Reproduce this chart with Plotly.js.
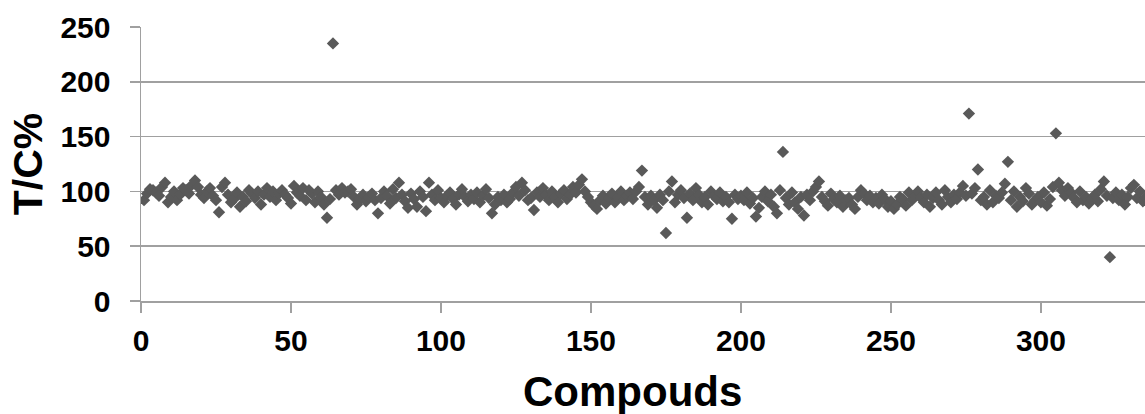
<!DOCTYPE html>
<html>
<head>
<meta charset="utf-8">
<script src="https://cdn.plot.ly/plotly-3.0.1.min.js"></script>
<style>html,body{margin:0;padding:0;background:#fff}#chart{width:1145px;height:414px}</style>
</head>
<body>
<div id="chart"></div>
<script>
// T/C% values for compounds 1..335
const tcValues = [
  92, 98, 102, 101, 99, 96, 104, 108, 90, 95, 100, 92, 97, 103, 101, 98, 106, 110, 104, 97,
  94, 100, 103, 96, 92, 81, 104, 108, 97, 90, 93, 99, 86, 95, 91, 101, 98, 94, 100, 88,
  97, 103, 95, 100, 92, 98, 101, 97, 94, 89, 105, 99, 96, 103, 92, 101, 98, 90, 100, 95,
  88, 76, 93, 235, 101, 97, 103, 99, 100, 102, 95, 88, 93, 97, 91, 95, 98, 92, 80, 94,
  100, 96, 89, 102, 94, 108, 97, 91, 85, 98, 93, 86, 100, 95, 82, 108, 97, 92, 101, 94,
  90, 96, 99, 93, 88, 97, 102, 95, 91, 97, 93, 99, 90, 96, 102, 94, 80, 88, 95, 92,
  97, 90, 93, 99, 104, 96, 108, 101, 92, 94, 83, 99, 95, 103, 97, 92, 100, 95, 90, 98,
  101, 93, 97, 104, 99, 106, 111, 100, 95, 90, 87, 84, 92, 96, 89, 94, 98, 90, 95, 100,
  92, 96, 99, 93, 100, 104, 119, 95, 88, 96, 92, 85, 97, 92, 62, 100, 109, 90, 97, 101,
  94, 76, 98, 92, 103, 97, 90, 95, 88, 100, 96, 93, 99, 91, 95, 90, 75, 97, 93, 96,
  92, 99, 89, 94, 77, 85, 95, 100, 91, 97, 86, 80, 101, 136, 94, 88, 99, 90, 84, 95,
  78, 97, 92, 100, 104, 109, 95, 91, 87, 98, 93, 90, 96, 86, 92, 94, 88, 84, 95, 101,
  98, 92, 96, 90, 94, 89, 97, 93, 86, 91, 84, 88, 95, 93, 87, 99, 92, 96, 100, 94,
  90, 97, 86, 94, 99, 92, 88, 101, 95, 90, 97, 93, 99, 105, 96, 171, 98, 103, 120, 92,
  95, 88, 101, 90, 96, 94, 99, 107, 127, 92, 100, 86, 95, 91, 103, 98, 88, 92, 95, 90,
  99, 87, 93, 104, 153, 108, 101, 96, 103, 99, 94, 90, 100, 92, 95, 89, 93, 97, 91, 102,
  109, 96, 40, 94, 99, 92, 97, 88, 95, 103, 106, 94, 100, 91, 95
];
const compoundIndex = tcValues.map((v, i) => i + 1);
const xTickValues = [0, 50, 100, 150, 200, 250, 300];
const yTickValues = [0, 50, 100, 150, 200, 250];
const xTitle = 'Compouds';
const yTitle = 'T/C%';

const font = 'Liberation Sans, Arial, sans-serif';
const trace = {
  x: compoundIndex,
  y: tcValues,
  type: 'scatter',
  mode: 'markers',
  marker: {symbol: 'diamond', size: 9.5, color: '#595959', line: {width: 0}},
  hoverinfo: 'x+y'
};
const layout = {
  width: 1145, height: 414,
  margin: {l: 141, r: 0, t: 27, b: 113},
  paper_bgcolor: '#fff', plot_bgcolor: '#fff',
  showlegend: false,
  xaxis: {
    range: [0, 334.7], tickvals: xTickValues, ticks: 'outside', ticklen: 10, tickwidth: 1.5,
    tickcolor: '#a0a0a0', showgrid: false, zeroline: false,
    showline: true, linecolor: '#a0a0a0', linewidth: 1.5,
    tickfont: {family: font, size: 30, color: '#000', weight: 'bold'},
    ticklabelstandoff: 2,
    automargin: false
  },
  yaxis: {
    range: [0, 250], tickvals: yTickValues, ticks: 'outside', ticklen: 10, tickwidth: 1.5,
    tickcolor: '#a0a0a0', showgrid: true, gridcolor: '#a0a0a0', gridwidth: 1.5, zeroline: false,
    showline: true, linecolor: '#a0a0a0', linewidth: 1.5,
    tickfont: {family: font, size: 30, color: '#000', weight: 'bold'},
    ticklabelstandoff: 13,
    title: {text: '<b>' + yTitle + '</b>', font: {family: font, size: 41, color: '#000'}, standoff: 5},
    automargin: false
  },
  annotations: [{
    text: '<b>' + xTitle + '</b>', xref: 'paper', yref: 'paper',
    x: (632 - 141) / (1145 - 141), y: -0.33, xanchor: 'center', yanchor: 'middle',
    showarrow: false, font: {family: font, size: 42, color: '#000'}
  }]
};
Plotly.newPlot('chart', [trace], layout, {displayModeBar: false, staticPlot: true});
</script>
</body>
</html>
